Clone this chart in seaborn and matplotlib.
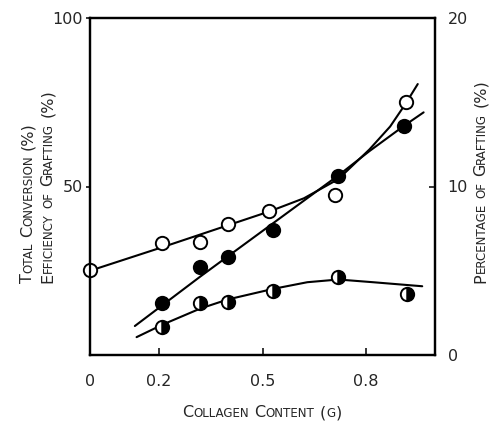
"""
Collagen grafting chart: total conversion, efficiency and percentage of grafting
"""

import matplotlib
matplotlib.use('Agg')
import matplotlib.pyplot as plt
import seaborn as sns
from matplotlib.transforms import IdentityTransform

sns.set_style('ticks')
plt.rcParams['font.family'] = ['DejaVu Sans']

# --- data ---
# open circles: total conversion (%) on left axis
open_x = [0.0, 0.21, 0.32, 0.40, 0.52, 0.71, 0.915]
open_y = [25.2, 33.2, 33.5, 38.9, 42.7, 47.5, 75.1]
open_curve_x = [0.0, 0.21, 0.40, 0.52, 0.62, 0.72, 0.81, 0.87, 0.915, 0.95]
open_curve_y = [25.0, 32.0, 38.5, 42.6, 46.5, 52.2, 61.0, 67.8, 74.6, 80.4]

# filled circles: percentage of grafting (%) on right axis
filled_x = [0.21, 0.32, 0.40, 0.53, 0.72, 0.91]
filled_y = [3.1, 5.2, 5.8, 7.4, 10.6, 13.6]
filled_curve_x = [0.13, 0.32, 0.52, 0.72, 0.81, 0.91, 0.967]
filled_curve_y = [1.72, 4.66, 7.66, 10.66, 12.1, 13.6, 14.4]

# half-filled circles: efficiency of grafting (%) on left axis
half_x = [0.21, 0.32, 0.40, 0.53, 0.72, 0.92]
half_y = [8.3, 15.4, 15.7, 19.0, 23.2, 18.2]
half_curve_x = [0.135, 0.21, 0.32, 0.40, 0.53, 0.63, 0.72, 0.82, 0.963]
half_curve_y = [5.3, 9.0, 13.8, 16.5, 19.6, 21.6, 22.4, 21.6, 20.4]

x_ticks = [0, 0.2, 0.5, 0.8]
x_ticklabels = ['0', '0.2', '0.5', '0.8']
left_ticks = [50, 100]
right_ticks = [0, 10, 20]


def small_caps(fig, text, x, y, vertical=False, center=False, big=11.5, small=8.6):
    """Write text in small caps, chunk by chunk, at pixel position (x, y) = baseline start"""
    renderer = fig.canvas.get_renderer()
    chunks = []
    for ch in text:
        if ch == ' ':
            chunks.append([' ', big])
            continue
        size = small if ch.islower() else big
        if chunks and chunks[-1][1] == size and chunks[-1][0] != ' ':
            chunks[-1][0] += ch.upper()
        else:
            chunks.append([ch.upper(), size])

    def advance(c, s):
        if c == ' ':
            return 0.34 * s * fig.dpi / 72
        t = fig.text(0, 0, c, size=s)
        w = t.get_window_extent(renderer).width
        t.remove()
        return w

    widths = [advance(c, s) for c, s in chunks]
    pos = 0.0
    if center:
        pos = -sum(widths) / 2
    for (c, s), w in zip(chunks, widths):
        if c != ' ':
            if vertical:
                fig.text(x, y + pos, c, size=s, rotation=90, rotation_mode='anchor',
                         ha='left', va='baseline', transform=IdentityTransform())
            else:
                fig.text(x + pos, y, c, size=s, ha='left', va='baseline',
                         transform=IdentityTransform())
        pos += w


fig = plt.figure(figsize=(4.91, 4.21), dpi=100)
ax = fig.add_axes([90 / 491, 66 / 421, 345 / 491, 337 / 421])
ax2 = ax.twinx()

lw = 1.5
ms = 9.6
mew = 1.4

sns.lineplot(x=open_curve_x, y=open_curve_y, ax=ax, color='black', lw=lw, sort=False)
sns.lineplot(x=half_curve_x, y=half_curve_y, ax=ax, color='black', lw=lw, sort=False)
sns.lineplot(x=filled_curve_x, y=filled_curve_y, ax=ax2, color='black', lw=lw, sort=False)

ax.plot(open_x, open_y, 'o', ms=ms, mfc='white', mec='black', mew=mew, clip_on=False, zorder=5)
ax.plot(half_x, half_y, 'o', ms=ms, fillstyle='left', mfc='white', mfcalt='black',
        mec='black', mew=mew, zorder=5)
ax2.plot(filled_x, filled_y, 'o', ms=ms, mfc='black', mec='black', mew=mew, zorder=5)

ax.set_xlim(0, 1.0)
ax.set_ylim(0, 100)
ax2.set_ylim(0, 20)

ax.set_xticks(x_ticks)
ax.set_xticklabels(x_ticklabels)
ax.set_yticks(left_ticks)
ax2.set_yticks(right_ticks)

ax.tick_params(axis='x', direction='in', length=5, width=1.3, pad=14, labelsize=11.5)
ax.tick_params(axis='y', direction='out', length=3, width=1.3, pad=2, labelsize=11.5)
ax2.tick_params(axis='y', direction='in', length=4, width=1.3, pad=9, labelsize=11.5)

for a in (ax, ax2):
    for s in a.spines.values():
        s.set_visible(True)
        s.set_linewidth(1.6)
        s.set_color('black')
ax.set_xlabel('')
ax.set_ylabel('')
ax2.set_ylabel('')

# axis titles in small caps (pixel positions, origin bottom-left)
small_caps(fig, 'Collagen Content (g)', 262, 4, center=True)
small_caps(fig, 'Total Conversion (%)', 32, 138, vertical=True)
small_caps(fig, 'Efficiency of Grafting (%)', 52, 138, vertical=True)
small_caps(fig, 'Percentage of Grafting (%)', 485, 138, vertical=True)

plt.savefig('out.png', dpi=100)
plt.close()
